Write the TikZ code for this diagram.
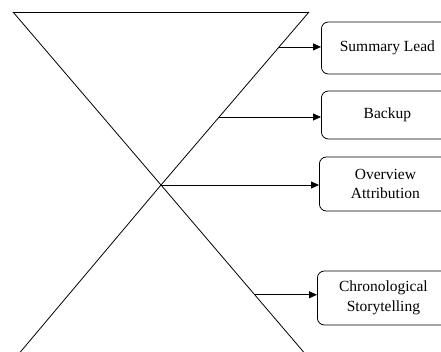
\documentclass[tikz,border=0pt]{standalone}
\usepackage{fontspec}
\setmainfont{Liberation Serif}
\usetikzlibrary{arrows.meta,calc}

\begin{document}
\begin{tikzpicture}[x=1pt, y=-1pt,
        part/.style={draw, rounded corners=7pt, line width=0.8pt, anchor=west,
            minimum width=132, align=center, inner sep=2pt,
            font=\fontsize{15.5}{19.5}\selectfont},
        link/.style={line width=0.8pt, -{Triangle[length=8pt, width=7pt]}}]
        \useasboundingbox (0, 0) rectangle (441, 352);
        \clip (0, 0) rectangle (441, 352);

        % Hourglass
        \coordinate (tl) at (13, 12);
        \coordinate (tr) at (309, 12);
        \coordinate (x) at (161, 185);
        \coordinate (bl) at (17, 356);
        \coordinate (br) at (307, 356);

        \draw[line width=0.8pt] (tl) -- (tr);
        \draw[line width=0.8pt] (tl) -- (x) -- (br);
        \draw[line width=0.8pt] (tr) -- (x) -- (bl);

        % Boxes
        \node[part, minimum height=52] (lead) at (321, 48) {Summary Lead};
        \node[part, minimum height=48] (backup) at (321, 115) {Backup};
        \node[part, minimum height=54] (overview) at (319, 184) {Overview\\Attribution};
        \node[part, minimum height=54] (story) at (317, 298) {Chronological\\Storytelling};

        % Arrow feet on the hourglass
        \coordinate (f1) at ($(tr)!0.202!(x)$);
        \coordinate (f2) at ($(tr)!0.607!(x)$);
        \coordinate (f4) at ($(x)!0.642!(br)$);

        \draw[link] (f1) -- (f1 -| lead.west);
        \draw[link] (f2) -- (f2 -| backup.west);
        \draw[link] (x) -- (x -| overview.west);
        \draw[link] (f4) -- (f4 -| story.west);
    \end{tikzpicture}
\end{document}
